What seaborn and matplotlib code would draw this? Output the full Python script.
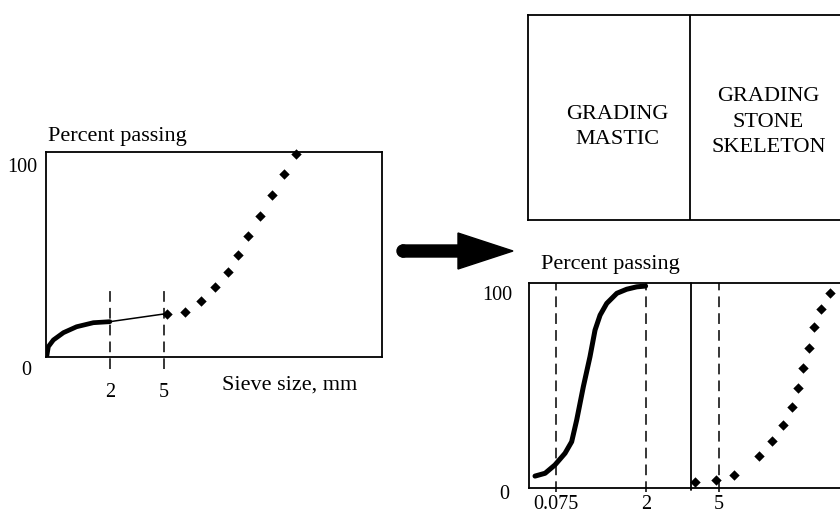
import numpy as np
import pandas as pd
import matplotlib
matplotlib.use("Agg")
import matplotlib.pyplot as plt
import matplotlib.transforms as mtransforms
from matplotlib.patches import FancyArrow, Circle
import seaborn as sns

# ---------------- data (arbitrary x units 0-100) ----------------
# Left chart: original grading
left_solid_x = [0.2, 0.7, 2.2, 5.2, 9.1, 14.1, 19.0]
left_solid_y = [0.0, 5.1, 8.4, 12.0, 14.9, 16.9, 17.4]
left_thin_x = [19.0, 35.1]
left_thin_y = [17.4, 21.2]
left_dot_x = [36.1, 41.5, 46.1, 50.4, 54.1, 57.1, 60.1, 63.8, 67.4, 70.9, 74.4]
left_dot_y = [21.0, 22.0, 27.6, 34.3, 41.9, 50.1, 59.8, 69.6, 79.8, 90.0, 99.9]
left_sieve_pos = [19.05, 35.1]
left_sieve_labels = ["2", "5"]
left_dash_top = [33.3, 32.3]

# Right chart: split grading (mastic + stone skeleton)
mastic_x = [1.9, 5.1, 8.2, 11.4, 13.5, 15.1, 17.2, 19.3, 20.9, 22.5, 24.6, 27.8, 30.9, 34.1, 36.9]
mastic_y = [5.9, 7.3, 11.4, 17.2, 22.9, 33.7, 50.2, 65.0, 78.2, 85.6, 91.4, 96.4, 98.4, 99.6, 100.0]
stone_x = [52.5, 59.2, 65.0, 72.7, 76.9, 80.3, 83.2, 85.0, 86.8, 88.6, 90.3, 92.3, 95.3]
stone_y = [2.8, 4.0, 6.4, 15.8, 23.3, 31.2, 40.2, 49.4, 59.6, 69.5, 79.6, 88.6, 96.7]
right_sieve_pos = [8.5, 37.0, 60.1]
right_sieve_labels = ["0.075", "2", "5"]
right_divider = 51.3

y_ticks = [0, 100]
y_tick_labels = ["0", "100"]

box_labels = ["GRADING\nMASTIC", "GRADING\nSTONE\nSKELETON"]

# ---------------- figure ----------------
sns.set_theme(style="white")
plt.rcParams["font.family"] = ["Liberation Serif", "DejaVu Serif"]
plt.rcParams["text.color"] = "black"
plt.rcParams["xtick.color"] = "black"
plt.rcParams["ytick.color"] = "black"
plt.rcParams["axes.labelcolor"] = "black"
W, H = 840, 515
fig = plt.figure(figsize=(W / 100, H / 100), dpi=100)
fig.patch.set_facecolor("white")


def px_axes(x0, x1, ytop, ybot):
    return fig.add_axes([x0 / W, (H - ybot) / H, (x1 - x0) / W, (ybot - ytop) / H])


def style_box(ax, lw=1.3):
    for s in ax.spines.values():
        s.set_color("black")
        s.set_linewidth(lw)
        s.set_visible(True)
    ax.set_facecolor("white")
    ax.tick_params(length=0, labelsize=14.5, colors="black")


def offset_labels(labels, dxs, dys):
    for lab, dx, dy in zip(labels, dxs, dys):
        lab.set_transform(lab.get_transform() +
                          mtransforms.ScaledTranslation(dx / 100, dy / 100, fig.dpi_scale_trans))


# ---- left chart ----
axL = px_axes(46, 382, 152, 357)
style_box(axL)
axL.set_xlim(0, 100)
axL.set_ylim(0, 101)
sns.lineplot(x=left_solid_x, y=left_solid_y, ax=axL, color="black", lw=3.4,
             sort=False, estimator=None, solid_capstyle="round")
sns.lineplot(x=left_thin_x, y=left_thin_y, ax=axL, color="black", lw=1.1,
             sort=False, estimator=None)
sns.scatterplot(x=left_dot_x, y=left_dot_y, ax=axL, color="black", marker="D",
                s=28, edgecolor="black", linewidth=0, clip_on=False)
for xp, top in zip(left_sieve_pos, left_dash_top):
    axL.plot([xp, xp], [-6, top], color="black", lw=1.1, ls=(0, (7, 4)), clip_on=False)
axL.set_xticks(left_sieve_pos)
axL.set_xticklabels(left_sieve_labels)
axL.set_yticks(y_ticks)
axL.set_yticklabels(y_tick_labels)
axL.tick_params(axis="x", pad=19)
axL.tick_params(axis="y", pad=6)
offset_labels(axL.get_yticklabels(), [-6, 0], [-11, -11])
axL.text(0.006, 1.075, "Percent passing", transform=axL.transAxes, fontsize=16,
         ha="left", va="center")
axL.text(0.524, -0.137, "Sieve size, mm", transform=axL.transAxes, fontsize=16,
         ha="left", va="center")

# ---- arrow ----
fig.patches.append(FancyArrow(4.02, (H - 251) / 100, 1.11, 0, width=0.12,
                              head_width=0.36, head_length=0.55,
                              length_includes_head=True, color="black",
                              transform=fig.dpi_scale_trans, figure=fig))
fig.patches.append(Circle((4.03, (H - 251) / 100), 0.06, color="black",
                          transform=fig.dpi_scale_trans, figure=fig))

# ---- top right box ----
axB = px_axes(528, 846, 15, 220)
style_box(axB)
axB.set_xlim(0, 100)
axB.set_ylim(0, 100)
axB.set_xticks([])
axB.set_yticks([])
axB.axvline(50.8, color="black", lw=1.3)
axB.text(28.1, 45.5, box_labels[0], fontsize=16, ha="center", va="center", linespacing=1.45)
axB.text(75.6, 47.8, box_labels[1], fontsize=16, ha="center", va="center", linespacing=1.45)

# ---- bottom right chart ----
axR = px_axes(529, 845, 283, 488)
style_box(axR)
axR.set_xlim(0, 100)
axR.set_ylim(0, 101.5)
sns.lineplot(x=mastic_x, y=mastic_y, ax=axR, color="black", lw=3.6,
             sort=False, estimator=None, solid_capstyle="round")
sns.scatterplot(x=stone_x, y=stone_y, ax=axR, color="black", marker="D",
                s=28, edgecolor="black", linewidth=0, clip_on=False)
for xp in right_sieve_pos:
    axR.plot([xp, xp], [-2, 101.5], color="black", lw=1.1, ls=(0, (7, 4)), clip_on=False)
axR.plot([right_divider, right_divider], [-1, 101.5], color="black", lw=1.3, clip_on=False)
axR.set_xticks(right_sieve_pos)
axR.set_xticklabels(right_sieve_labels)
axR.set_yticks(y_ticks)
axR.set_yticklabels(y_tick_labels)
axR.tick_params(axis="x", pad=5)
axR.tick_params(axis="y", pad=12)
offset_labels(axR.get_yticklabels(), [-3, 0], [-4, -7])
axR.text(0.038, 1.09, "Percent passing", transform=axR.transAxes, fontsize=16,
         ha="left", va="center")

fig.savefig("out.png", dpi=100, facecolor="white")
